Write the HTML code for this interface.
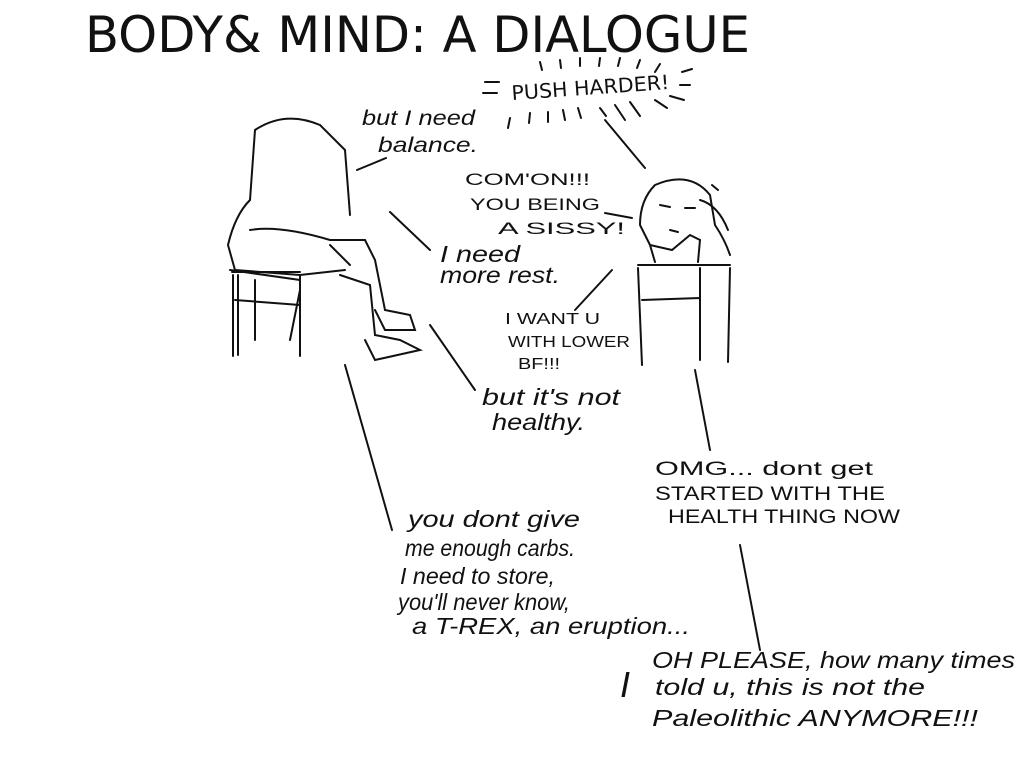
<!DOCTYPE html>
<html><head><meta charset="utf-8"><style>
html,body{margin:0;padding:0;background:#fff;}
svg{display:block}
text{font-family:"Liberation Sans",sans-serif;fill:#111;}
.h{font-family:"DejaVu Sans","Liberation Sans",sans-serif;}
.s{font-style:italic;font-family:"Liberation Serif",serif;}
</style></head><body>
<svg width="1024" height="768" viewBox="0 0 1024 768" xmlns="http://www.w3.org/2000/svg">
<rect width="1024" height="768" fill="#fff"/>
<text x="85" y="52" font-size="50" class="h" textLength="665" lengthAdjust="spacingAndGlyphs">BODY&amp; MIND: A DIALOGUE</text>
<text x="512" y="100" font-size="20" class="h" transform="rotate(-4 512 100)" textLength="158" lengthAdjust="spacingAndGlyphs">PUSH HARDER!</text>
<g stroke="#111" stroke-width="2" fill="none" stroke-linecap="round">
<path d="M485 82h14M483 93h14M510 118l-2 10M530 113l-1 10M548 112v10M563 110l2 10M578 108l3 10M600 108l6 8M615 105l10 15M630 102l10 14M655 100l12 8M670 96l14 4M680 85l10 0M682 72l10-3M540 62l2 8M560 60l1 8M580 58v8M600 58l-1 8M620 58l-2 8M640 60l-3 8M660 64l-5 8"/>
<path d="M357 170L386 158M390 212L430 250M605 213L632 218M612 270L575 310M430 325L475 390M345 365L392 530M695 370L710 450M740 545L760 650M605 120L645 168"/>
<path d="M255 130Q285 110 320 125L345 150L350 215M255 130L250 200Q235 215 228 245L235 270L300 275L345 270M250 230Q280 225 330 240L365 240L375 260L385 310L410 315L415 330L385 330L375 310M330 245L350 265M230 270L300 280M340 275L370 285L375 335L400 340L420 350L375 360L365 340M238 275V355M300 280V355M235 300L300 305M255 280V340M300 290L290 340"/>
<path d="M232 272H300M233 275L233 356M300 275L300 356"/>
<path d="M655 185Q690 170 710 195L715 225Q725 240 730 255M655 185Q640 200 640 225L650 245L672 250L690 235L700 240L698 262M650 245L655 262M700 200Q718 205 728 230M712 185L718 190"/>
<path d="M660 205l10 2M685 208l10 0M670 230l8 2"/>
<path d="M638 265H730M638 268L642 365M700 268V360M730 268L728 362M642 300L700 298"/>
</g>
<g class="s" font-size="21">
<text x="362" y="125" textLength="113" lengthAdjust="spacingAndGlyphs">but I need</text>
<text x="378" y="152" textLength="100" lengthAdjust="spacingAndGlyphs">balance.</text>
</g>
<g class="h" font-size="17">
<text x="465" y="185" textLength="125" lengthAdjust="spacingAndGlyphs">COM'ON!!!</text>
<text x="470" y="210" textLength="130" lengthAdjust="spacingAndGlyphs">YOU BEING</text>
<text x="498" y="234" textLength="127" lengthAdjust="spacingAndGlyphs">A SISSY!</text>
<text x="505" y="324" font-size="16" textLength="95" lengthAdjust="spacingAndGlyphs">I WANT U</text>
<text x="508" y="347" font-size="16" textLength="122" lengthAdjust="spacingAndGlyphs">WITH LOWER</text>
<text x="518" y="369" font-size="16" textLength="42" lengthAdjust="spacingAndGlyphs">BF!!!</text>
<text x="655" y="475" font-size="19" textLength="218" lengthAdjust="spacingAndGlyphs">OMG... dont get</text>
<text x="655" y="500" font-size="19" textLength="230" lengthAdjust="spacingAndGlyphs">STARTED WITH THE</text>
<text x="668" y="523" font-size="19" textLength="232" lengthAdjust="spacingAndGlyphs">HEALTH THING NOW</text>
</g>
<g class="s" font-size="23">
<text x="440" y="262" textLength="80" lengthAdjust="spacingAndGlyphs">I need</text>
<text x="440" y="283" textLength="120" lengthAdjust="spacingAndGlyphs">more rest.</text>
<text x="482" y="405" textLength="138" lengthAdjust="spacingAndGlyphs">but it's not</text>
<text x="492" y="430" textLength="93" lengthAdjust="spacingAndGlyphs">healthy.</text>
<text x="408" y="527" textLength="172" lengthAdjust="spacingAndGlyphs">you dont give</text>
<text x="405" y="556" textLength="170" lengthAdjust="spacingAndGlyphs">me enough carbs.</text>
<text x="400" y="584" textLength="155" lengthAdjust="spacingAndGlyphs">I need to store,</text>
<text x="398" y="610" textLength="172" lengthAdjust="spacingAndGlyphs">you'll never know,</text>
<text x="412" y="634" textLength="278" lengthAdjust="spacingAndGlyphs">a T-REX, an eruption...</text>
<text x="620" y="697" font-size="36">I</text>
<text x="652" y="668" textLength="363" lengthAdjust="spacingAndGlyphs">OH PLEASE, how many times</text>
<text x="655" y="695" textLength="270" lengthAdjust="spacingAndGlyphs">told u, this is not the</text>
<text x="652" y="726" textLength="326" lengthAdjust="spacingAndGlyphs">Paleolithic ANYMORE!!!</text>
</g>
</svg>
</body></html>
